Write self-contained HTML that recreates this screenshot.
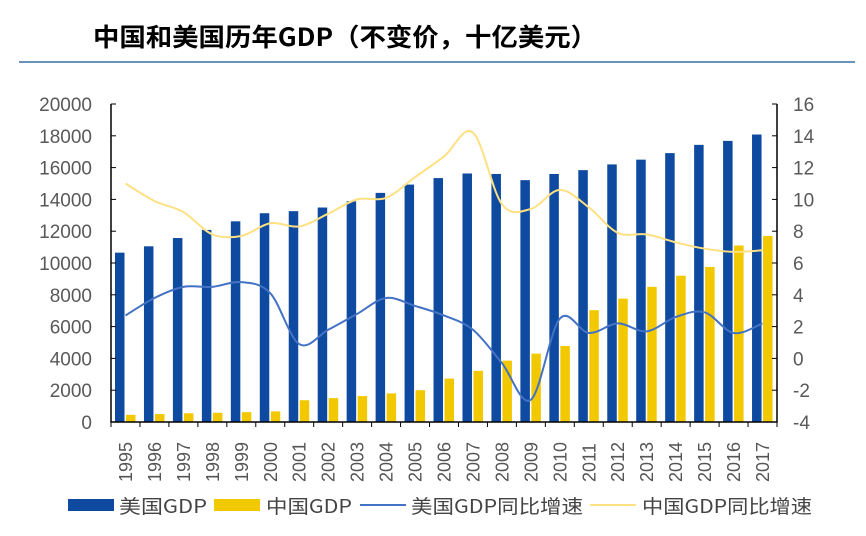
<!DOCTYPE html>
<html><head><meta charset="utf-8"><style>
body{margin:0;background:#fff;width:866px;height:531px;overflow:hidden;font-family:"Liberation Sans","Noto Sans CJK SC",sans-serif}
</style></head><body>
<svg id="c" width="866" height="531" xmlns="http://www.w3.org/2000/svg">
<text x="93" y="46" font-size="25" font-weight="bold" fill="#000" textLength="504" lengthAdjust="spacingAndGlyphs" font-family="'Noto Sans CJK SC',sans-serif">中国和美国历年GDP（不变价，十亿美元）</text>
<line x1="19" y1="62" x2="855" y2="62" stroke="#3a6ea5" stroke-width="1.5"/>
<g id="plot"></g>
<g font-size="19" fill="#444" font-family="'Noto Sans CJK SC',sans-serif">
<rect x="68" y="499" width="46" height="12" fill="#0d4aa0"/>
<text x="119" y="513" textLength="88" lengthAdjust="spacingAndGlyphs">美国GDP</text>
<rect x="214" y="499" width="46" height="12" fill="#f2c800"/>
<text x="266" y="513" textLength="86" lengthAdjust="spacingAndGlyphs">中国GDP</text>
<line x1="360" y1="505" x2="406" y2="505" stroke="#4472c4" stroke-width="2"/>
<text x="411" y="513" textLength="172" lengthAdjust="spacingAndGlyphs">美国GDP同比增速</text>
<line x1="590" y1="505" x2="636" y2="505" stroke="#ffe083" stroke-width="2"/>
<text x="642" y="513" textLength="170" lengthAdjust="spacingAndGlyphs">中国GDP同比增速</text>
</g>
</svg>
<script>
const years=["1995","1996","1997","1998","1999","2000","2001","2002","2003","2004","2005","2006","2007","2008","2009","2010","2011","2012","2013","2014","2015","2016","2017"];
const usGDP=[10650,11050,11570,12080,12620,13130,13260,13490,13880,14410,14930,15340,15630,15600,15210,15600,15840,16200,16500,16910,17430,17680,18080];
const cnGDP=[450,500,550,580,620,670,1370,1500,1630,1800,2000,2730,3220,3860,4300,4780,7030,7760,8500,9200,9750,11100,11700];
const usGrowth=[2.7,3.8,4.5,4.5,4.8,4.1,0.9,1.8,2.8,3.8,3.3,2.7,1.8,-0.3,-2.6,2.5,1.6,2.2,1.7,2.6,2.9,1.6,2.2];
const cnGrowth=[11.0,9.9,9.2,7.8,7.7,8.5,8.3,9.1,10.0,10.1,11.4,12.7,14.2,9.7,9.4,10.6,9.5,7.9,7.8,7.3,6.9,6.7,6.8];
const leftTicks=[0,2000,4000,6000,8000,10000,12000,14000,16000,18000,20000];
const rightTicks=[-4,-2,0,2,4,6,8,10,12,14,16];
const NS="http://www.w3.org/2000/svg";
const g=document.getElementById('plot');
const L=111,R=777,T=104,B=422,n=years.length,cw=(R-L)/n;
const yL=v=>B-(v/20000)*(B-T);
const yR=v=>B-((v+4)/20)*(B-T);
const xc=i=>L+cw*(i+0.5);
function mk(t,a){const e=document.createElementNS(NS,t);for(const k in a)e.setAttribute(k,a[k]);g.appendChild(e);return e;}
years.forEach((y,i)=>{
 const b=mk('rect',{x:L+cw*i+4,y:yL(usGDP[i]),width:9.5,height:B-yL(usGDP[i]),fill:'#0d4aa0'});
 
 
 const c=mk('rect',{x:L+cw*i+15,y:yL(cnGDP[i]),width:9.5,height:B-yL(cnGDP[i]),fill:'#f2c800'});
 
 
 const t=mk('text',{transform:`translate(${xc(i)+6.5},${482}) rotate(-90)`,'font-size':18,fill:'#555'});
 t.textContent=y;
 
 
});
function smooth(vals){
 const p=vals.map((v,i)=>[xc(i),yR(v)]);
 let d=`M${p[0][0]},${p[0][1]}`;
 for(let i=0;i<p.length-1;i++){
  const p0=p[i-1]||p[i],p1=p[i],p2=p[i+1],p3=p[i+2]||p2;
  d+=` C${p1[0]+(p2[0]-p0[0])/6},${p1[1]+(p2[1]-p0[1])/6} ${p2[0]-(p3[0]-p1[0])/6},${p2[1]-(p3[1]-p1[1])/6} ${p2[0]},${p2[1]}`;
 }
 return d;
}
const l1=mk('path',{d:smooth(usGrowth),fill:'none',stroke:'#4472c4','stroke-width':2});


const l2=mk('path',{d:smooth(cnGrowth),fill:'none',stroke:'#ffe083','stroke-width':2});


const ax=mk('path',{d:`M${L},${T}V${B}H${R}V${T}`,fill:'none',stroke:'#000','stroke-width':1.5});


for(let i=0;i<=n;i++)mk('line',{x1:L+cw*i,x2:L+cw*i,y1:B,y2:B+5,stroke:'#000'});
leftTicks.forEach(v=>{
 mk('line',{x1:L,x2:L+5,y1:yL(v),y2:yL(v),stroke:'#000'});
 const t=mk('text',{x:92,y:yL(v)+7,'text-anchor':'end','font-size':19,fill:'#595959'});
 t.textContent=v;
 
 
});
rightTicks.forEach(v=>{
 mk('line',{x1:R-5,x2:R,y1:yR(v),y2:yR(v),stroke:'#000'});
 const t=mk('text',{x:793,y:yR(v)+7,'font-size':19,fill:'#595959'});
 t.textContent=v;
 
 
});
</script>
</body></html>
